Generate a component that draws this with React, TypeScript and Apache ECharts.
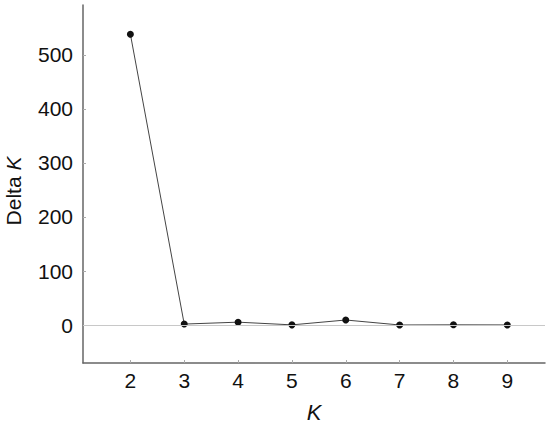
import React, { useEffect, useRef } from "react";
import * as echarts from "echarts";

const kValues = [2, 3, 4, 5, 6, 7, 8, 9];
const deltaK = [538, 2, 5.5, 0.5, 9.5, 0.3, 0.6, 0.4];
const yTicks = [0, 100, 200, 300, 400, 500];

export default function App() {
  const ref = useRef<HTMLDivElement>(null);
  useEffect(() => {
    if (!ref.current) return;
    const chart = echarts.init(ref.current, null, { renderer: "svg" });
    const font = "'Liberation Sans', Arial, Helvetica, sans-serif";
    chart.setOption({
      animation: false,
      backgroundColor: "#ffffff",
      grid: { left: 83, right: 5, top: 5, bottom: 63, containLabel: false, outerBoundsMode: "none" },
      xAxis: {
        type: "value",
        min: 1.12,
        max: 9.7,
        name: "K",
        nameLocation: "middle",
        nameGap: 38,
        nameTextStyle: { fontFamily: font, fontSize: 22, fontStyle: "italic", color: "#111" },
        axisLine: { show: true, onZero: false, lineStyle: { color: "#666", width: 1.5 } },
        axisTick: { show: true, inside: true, length: 3, customValues: kValues, lineStyle: { color: "#aaa" } },
        axisLabel: { customValues: kValues, fontFamily: font, fontSize: 21, color: "#111", margin: 7 },
        splitLine: { show: false },
      },
      yAxis: {
        type: "value",
        min: -70,
        max: 592,
        name: "{n|Delta }{i|K}",
        nameLocation: "middle",
        nameRotate: 90,
        nameGap: 59,
        nameTextStyle: {
          padding: [0, 14, 0, 0],
          rich: {
            n: { fontFamily: font, fontSize: 21, color: "#111" },
            i: { fontFamily: font, fontSize: 21, fontStyle: "italic", color: "#111" },
          },
        },
        axisLine: { show: true, lineStyle: { color: "#666", width: 1.5 } },
        axisTick: { show: true, inside: true, length: 3, customValues: yTicks, lineStyle: { color: "#aaa" } },
        axisLabel: { customValues: yTicks, fontFamily: font, fontSize: 21, color: "#111", margin: 10 },
        splitLine: { show: false },
      },
      series: [
        {
          type: "line",
          data: kValues.map((k, i) => [k, deltaK[i]]),
          symbol: "circle",
          symbolSize: 7,
          itemStyle: { color: "#111" },
          lineStyle: { color: "#444", width: 1 },
          markLine: {
            silent: true,
            symbol: "none",
            label: { show: false },
            lineStyle: { color: "#c8c8c8", width: 1, type: "solid" },
            data: [{ yAxis: 0 }],
          },
        },
      ],
    });
    return () => chart.dispose();
  }, []);
  return <div ref={ref} style={{ width: 550, height: 426, position: "absolute", left: 0, top: 0 }} />;
}
